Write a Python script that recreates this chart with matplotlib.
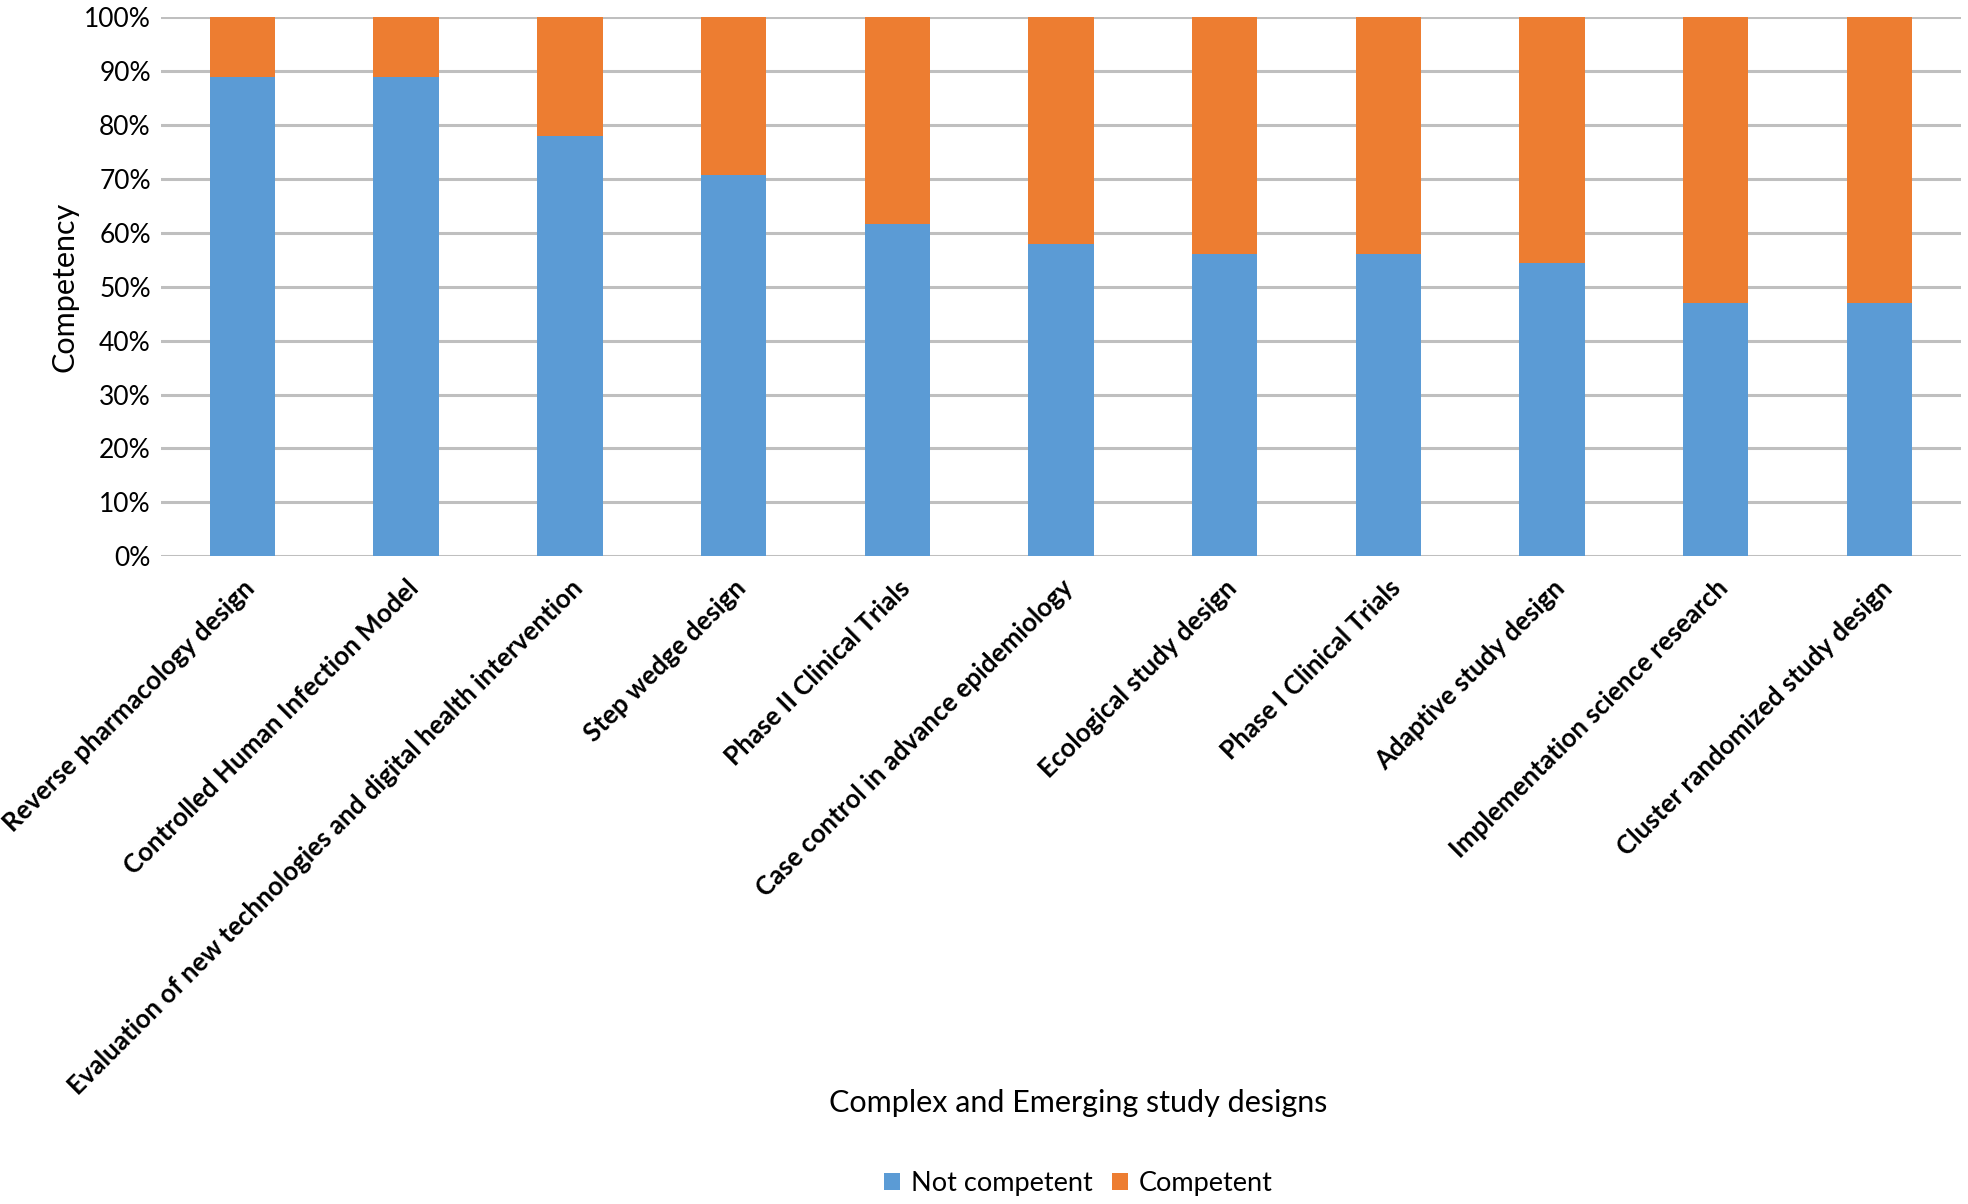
import matplotlib
matplotlib.use("Agg")
import matplotlib.pyplot as plt
import numpy as np

# Data (share of respondents, %)
designs = [
    "Reverse pharmacology design",
    "Controlled Human Infection Model",
    "Evaluation of new technologies and digital health intervention",
    "Step wedge design",
    "Phase II Clinical Trials",
    "Case control in advance epidemiology",
    "Ecological study design",
    "Phase I Clinical Trials",
    "Adaptive study design",
    "Implementation science research",
    "Cluster randomized study design",
]
not_competent = [89, 89, 78, 70.7, 61.6, 58, 56, 56, 54.4, 47, 47]
competent = [100 - v for v in not_competent]
y_ticks = [0, 10, 20, 30, 40, 50, 60, 70, 80, 90, 100]

plt.rcParams["font.family"] = ["Lato", "DejaVu Sans"]

fig = plt.figure(figsize=(19.68, 12.04), dpi=100)
ax = fig.add_axes([0.0816, 0.538, 0.915, 0.4476])

x = np.arange(len(designs))
ax.bar(x, not_competent, width=0.4, color="#5B9BD5", label="Not competent", zorder=3)
ax.bar(x, competent, width=0.4, bottom=not_competent, color="#ED7D31",
       label="Competent", zorder=3)

ax.set_xlim(-0.5, len(designs) - 0.5)
ax.set_ylim(0, 100)
ax.set_yticks(y_ticks)
ax.set_yticklabels([f"{t}%" for t in y_ticks], fontsize=19)
ax.yaxis.grid(True, color="#BFBFBF", linewidth=2.2, zorder=0)
ax.tick_params(axis="both", length=0)
ax.tick_params(axis="y", pad=7)
for s in ax.spines.values():
    s.set_visible(False)

ax.set_xticks(x)
ax.set_xticklabels(designs, rotation=45, ha="right", va="top",
                   rotation_mode="anchor", fontsize=18.6, fontweight="bold")
ax.tick_params(axis="x", pad=14)

ax.set_ylabel("Competency", fontsize=22, labelpad=4)
fig.text(0.548, 0.084, "Complex and Emerging study designs", fontsize=22,
         ha="center", va="center")

fig.legend(loc="center", bbox_to_anchor=(0.548, 0.017), ncol=2, frameon=False,
           fontsize=19.5, handlelength=0.6, handleheight=0.6, handletextpad=0.4,
           columnspacing=0.7)

fig.savefig("out.png", dpi=100)
